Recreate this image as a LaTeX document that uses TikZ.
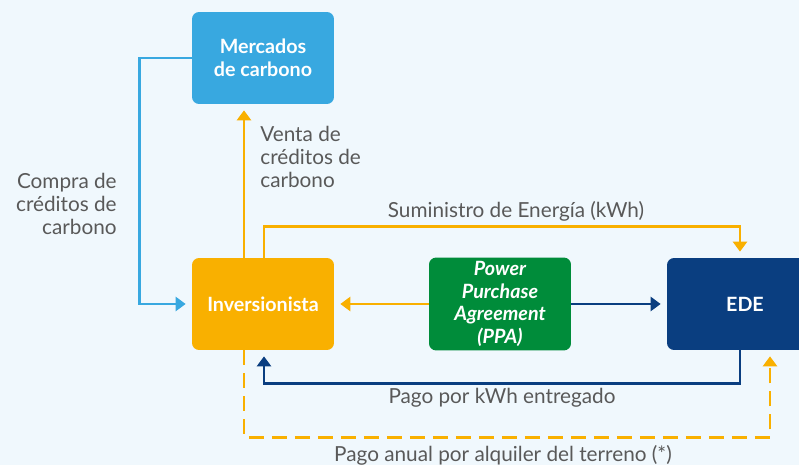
\documentclass[tikz,border=0pt]{standalone}
\usepackage{fontspec}
\setmainfont{Lato}
\usetikzlibrary{arrows.meta,calc}
\definecolor{bgc}{HTML}{F0F8FD}
\definecolor{lblue}{HTML}{38A8E0}
\definecolor{orng}{HTML}{F9B000}
\definecolor{grn}{HTML}{008C3A}
\definecolor{dblue}{HTML}{0A3E80}
\definecolor{txt}{HTML}{595959}
\begin{document}
\begin{tikzpicture}[x=0.02cm,y=-0.02cm,
  box/.style={rounded corners=4pt, minimum width=2.84cm, minimum height=1.84cm, inner sep=2pt, text=white, font=\bfseries\fontsize{11.2}{13}\selectfont, align=center},
  conn/.style={line width=1.6pt, -{Triangle[length=0.2cm,width=0.28cm]}, shorten >=0.12cm},
  lab/.style={text=txt, font=\fontsize{11.8}{13.3}\selectfont, inner sep=0pt}
]
\useasboundingbox[fill=bgc] (0,0) rectangle (799,465);
\node[box, fill=lblue] (merc) at (263,58) {Mercados\\de carbono};
\node[box, fill=orng] (inv) at (263,304) {Inversionista};
\node[box, fill=grn, font=\bfseries\itshape\fontsize{11.2}{13}\selectfont] (ppa) at (500,304) {Power\\Purchase\\Agreement\\(PPA)};
\node[box, fill=dblue, minimum width=3.12cm] (ede) at (745,304) {EDE};

\draw[conn, lblue] (merc.west) -- ++(-52,0) |- (inv.west);
\draw[conn, orng] ($(inv.north)+(-19,0)$) -- ($(merc.south)+(-19,0)$);
\draw[conn, orng] ($(inv.north)+(1,0)$) -- ++(0,-31) -| ($(ede.north)+(-5,0)$);
\draw[conn, orng] (ppa.west) -- (inv.east);
\draw[conn, dblue] (ppa.east) -- (ede.west);
\draw[conn, dblue] ($(ede.south)+(-5,0)$) -- ++(0,33) -| ($(inv.south)+(1,0)$);
\draw[conn, orng, dash pattern=on 0.3cm off 0.16cm] ($(inv.south)+(-19,0)$) -- ++(0,87) -| ($(ede.south)+(25,0)$);

\node[lab, align=right, anchor=east] (compra) at (117,204) {Compra de\\créditos de\\carbono};
\node[lab, align=left, anchor=west] (venta) at (260,157) {Venta de\\créditos de\\carbono};
\node[lab] (sum) at (516,211) {Suministro de Energía (kWh)};
\node[lab] (pago) at (502,398) {Pago por kWh entregado};
\node[lab] (anual) at (503,455) {Pago anual por alquiler del terreno (*)};
\end{tikzpicture}
\end{document}
